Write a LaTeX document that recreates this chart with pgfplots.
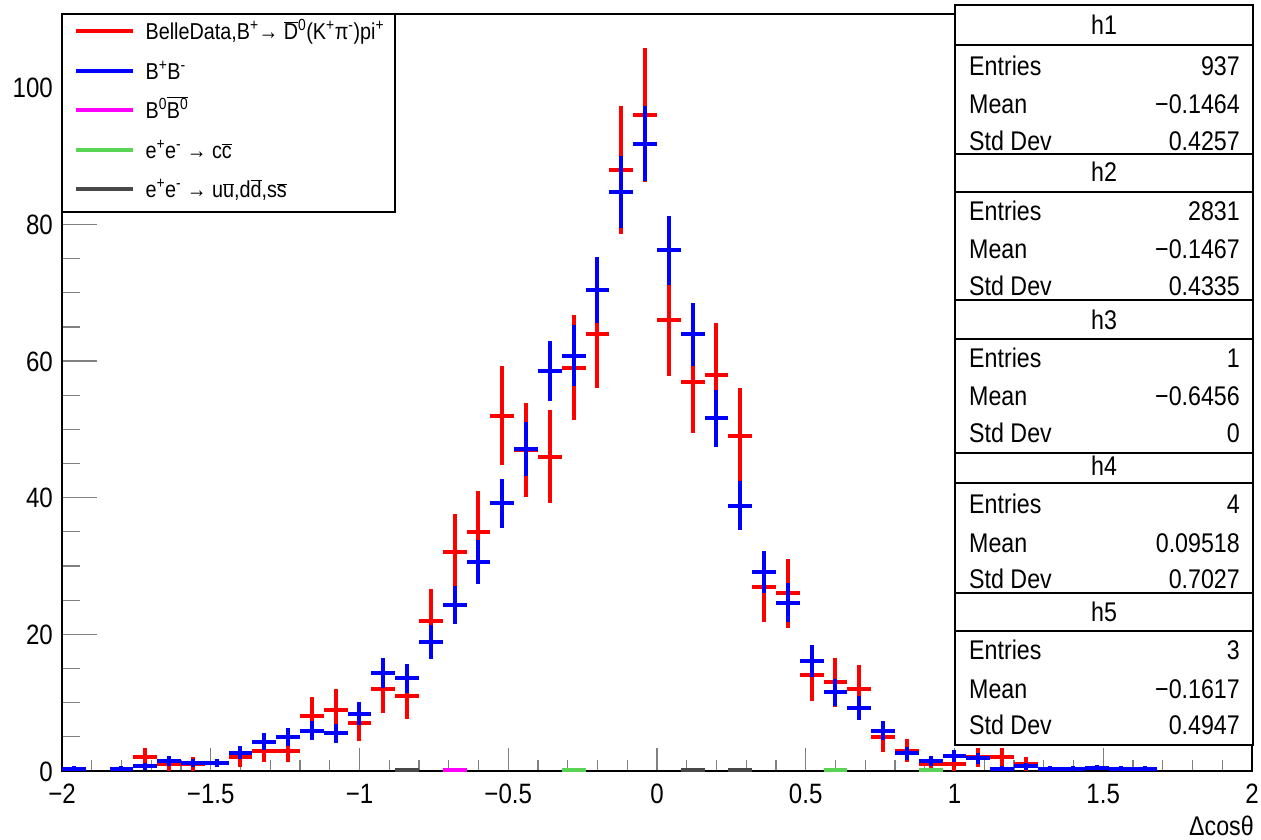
\documentclass[border=0pt]{standalone}
\usepackage{fontspec}
\setmainfont{Liberation Sans}[FakeStretch=0.86]
\usepackage{pgfplots}
\pgfplotsset{compat=1.18}
\usepackage{pgfplotstable}

\definecolor{rootred}{RGB}{255,0,0}
\definecolor{rootblue}{RGB}{0,0,255}
\definecolor{rootmag}{RGB}{255,0,255}
\definecolor{rootgreen}{RGB}{89,212,84}
\definecolor{rootgray}{RGB}{72,72,72}

% h1: Belle data (counts, error sqrt(N))
\pgfplotstableread{
x y ey
-1.72 2 1.41
-1.64 1 1
-1.56 1 1
-1.40 2 1.41
-1.32 3 1.73
-1.24 3 1.73
-1.16 8 2.83
-1.08 9 3
-1.00 7 2.65
-0.92 12 3.46
-0.84 11 3.32
-0.76 22 4.69
-0.68 32 5.66
-0.60 35 5.92
-0.52 52 7.21
-0.44 47 6.86
-0.36 46 6.78
-0.28 59 7.68
-0.20 64 8
-0.12 88 9.38
-0.04 96 9.80
0.04 66 8.12
0.12 57 7.55
0.20 58 7.62
0.28 49 7
0.36 27 5.20
0.44 26 5.10
0.52 14 3.74
0.60 13 3.61
0.68 12 3.46
0.76 5 2.24
0.84 3 1.73
0.92 1 1
1.00 1 1
1.08 2 1.41
1.16 2 1.41
1.24 1 1
}\hone

% h2: B+B- MC (scaled)
\pgfplotstableread{
x y ey
-1.96 0.33 0.33
-1.80 0.33 0.33
-1.72 0.66 0.47
-1.64 1.5 0.70
-1.56 1.2 0.63
-1.48 1.2 0.63
-1.40 2.7 0.95
-1.32 4.3 1.19
-1.24 5.0 1.29
-1.16 5.9 1.40
-1.08 5.5 1.35
-1.00 8.4 1.67
-0.92 14.4 2.18
-0.84 13.6 2.12
-0.76 18.9 2.50
-0.68 24.3 2.84
-0.60 30.6 3.18
-0.52 39.2 3.60
-0.44 47.1 3.95
-0.36 58.6 4.40
-0.28 60.8 4.49
-0.20 70.4 4.83
-0.12 84.7 5.29
-0.04 91.8 5.51
0.04 76.2 5.02
0.12 63.9 4.60
0.20 51.6 4.13
0.28 38.8 3.58
0.36 29.1 3.10
0.44 24.6 2.85
0.52 16.1 2.31
0.60 11.5 1.95
0.68 9.2 1.75
0.76 5.86 1.39
0.84 2.6 0.93
0.92 1.46 0.70
1.00 2.2 0.85
1.08 1.85 0.78
1.16 0.33 0.33
1.24 0.66 0.47
1.32 0.33 0.33
1.40 0.33 0.33
1.48 0.5 0.41
1.56 0.33 0.33
1.64 0.33 0.33
}\htwo

% h3: B0B0bar
\pgfplotstableread{
x y ey
-0.68 0.2 0.2
}\hthree

% h4: e+e- -> ccbar
\pgfplotstableread{
x y ey
-0.84 0.2 0.2
-0.28 0.2 0.2
0.60 0.2 0.2
0.92 0.2 0.2
}\hfour

% h5: e+e- -> uds
\pgfplotstableread{
x y ey
-0.84 0.2 0.2
0.12 0.2 0.2
0.28 0.2 0.2
}\hfive

\pgfplotsset{
  rootpts/.style={draw=none, mark=none, forget plot,
    error bars/.cd, x dir=both, x fixed=0.04, y dir=both, y explicit,
    error mark=none, error bar style={draw=#1, line width=4pt}},
  leg/.style={legend image code/.code={\path[draw=none,fill=none] (0pt,-6pt) rectangle (70pt,6pt);
    \draw[#1, line width=4pt] (0pt,3pt) -- (57pt,3pt);}}
}

\newcommand{\statbox}[9]{%
  \draw[line width=1.3pt, fill=white] (955pt,{(839-#1)*1pt}) rectangle (1253pt,{(839-#3)*1pt});
  \draw[line width=1.3pt] (955pt,{(839-#2)*1pt}) -- (1253pt,{(839-#2)*1pt});
  \node[anchor=base, inner sep=0pt] at (1104pt,{(829.5-#4)*1pt}) {#6};
  \node[anchor=base west, inner sep=0pt] at (969pt,{(829.5-#5)*1pt}) {Entries};
  \node[anchor=base east, inner sep=0pt] at (1240pt,{(829.5-#5)*1pt}) {#7};
  \node[anchor=base west, inner sep=0pt] at (969pt,{(829.5-#5-38.5)*1pt}) {Mean};
  \node[anchor=base east, inner sep=0pt] at (1240pt,{(829.5-#5-38.5)*1pt}) {#8};
  \node[anchor=base west, inner sep=0pt] at (969pt,{(829.5-#5-75)*1pt}) {Std Dev};
  \node[anchor=base east, inner sep=0pt] at (1240pt,{(829.5-#5-75)*1pt}) {#9};
}

\begin{document}
\begin{tikzpicture}
\useasboundingbox (0pt,0pt) rectangle (1261pt,839pt);
\begin{axis}[
  at={(62pt,68pt)}, anchor=south west,
  scale only axis, width=1190pt, height=757pt,
  xmin=-2, xmax=2, ymin=0, ymax=110.8,
  axis line style={line width=1.4pt},
  tick align=inside, tick pos=left,
  xtick={-2,-1.5,-1,-0.5,0,0.5,1,1.5,2},
  xticklabels={−2,−1.5,−1,−0.5,0,0.5,1,1.5,2},
  minor x tick num=4,
  ytick={0,20,40,60,80,100},
  yticklabels={0,20,40,60,80,100},
  minor y tick num=3,
  tick label style={font=\fontsize{28}{32}\selectfont, text height=20pt, text depth=0pt},
  xticklabel style={inner ysep=0pt, yshift=-12pt},
  yticklabel style={inner xsep=0pt, xshift=-9pt},
  xtick style={line width=1.2pt, /pgfplots/major tick length=23pt, /pgfplots/minor tick length=11.5pt},
  ytick style={line width=1.2pt, /pgfplots/major tick length=35pt, /pgfplots/minor tick length=17.5pt},
  xlabel={Δcosθ},
  xlabel style={at={(axis description cs:1,0)}, anchor=base east, yshift=-64pt, xshift=2pt, inner sep=0pt, font=\fontsize{27}{30}\selectfont},
  legend cell align=left,
  legend style={at={(0,1)}, anchor=north west, draw=black, line width=1.2pt, fill=white,
    font=\fontsize{23}{27}\selectfont, inner xsep=11pt, inner ysep=8pt, row sep=16.6pt,
    nodes={inner sep=0pt, text height=17pt, text depth=6pt}},
]
\addplot[rootpts=rootred] table[x=x,y=y,y error=ey]{\hone};
\addplot[rootpts=rootblue] table[x=x,y=y,y error=ey]{\htwo};
\addplot[rootpts=rootmag] table[x=x,y=y,y error=ey]{\hthree};
\addplot[rootpts=rootgreen] table[x=x,y=y,y error=ey]{\hfour};
\addplot[rootpts=rootgray] table[x=x,y=y,y error=ey]{\hfive};

\addlegendimage{leg=rootred}
\addlegendentry{BelleData,B\textsuperscript{+}→ $\overline{\mbox{D}}$\textsuperscript{0}(K\textsuperscript{+}π\textsuperscript{-})pi\textsuperscript{+}}
\addlegendimage{leg=rootblue}
\addlegendentry{B\textsuperscript{+}B\textsuperscript{-}}
\addlegendimage{leg=rootmag}
\addlegendentry{B\textsuperscript{0}$\overline{\mbox{B\textsuperscript{0}}}$}
\addlegendimage{leg=rootgreen}
\addlegendentry{e\textsuperscript{+}e\textsuperscript{-} → c$\overline{\mbox{c}}$}
\addlegendimage{leg=rootgray}
\addlegendentry{e\textsuperscript{+}e\textsuperscript{-} → u$\overline{\mbox{u}}$,d$\overline{\mbox{d}}$,s$\overline{\mbox{s}}$}
\end{axis}

\begin{scope}[font=\fontsize{27}{30}\selectfont]
\statbox{5}{45}{154}{25}{66}{h1}{937}{−0.1464}{0.4257}
\statbox{154}{192}{300}{172}{211}{h2}{2831}{−0.1467}{0.4335}
\statbox{300}{339}{453}{320}{358}{h3}{1}{−0.6456}{0}
\statbox{453}{483}{593}{466}{504}{h4}{4}{0.09518}{0.7027}
\statbox{593}{631}{745}{612}{650}{h5}{3}{−0.1617}{0.4947}
\end{scope}
\end{tikzpicture}
\end{document}
